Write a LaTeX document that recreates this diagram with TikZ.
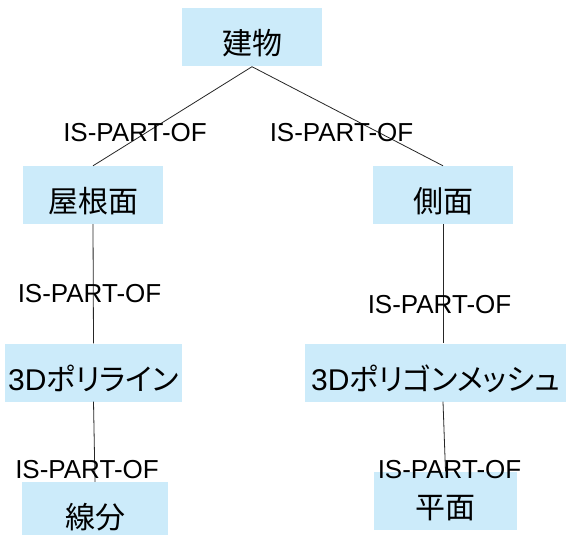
\documentclass[tikz,border=0pt]{standalone}
\usepackage{fontspec}
\setmainfont{Liberation Sans}
\newfontfamily\jpfont[RawFeature=+palt]{Noto Sans CJK JP}
\newfontfamily\latinfont{Liberation Sans}
\definecolor{boxblue}{RGB}{204,235,250}
\begin{document}
\begin{tikzpicture}[x=1pt,y=-1pt,
  box/.style={fill=boxblue, draw=none, minimum height=58pt, inner sep=0pt,
    font=\fontsize{30}{30}\jpfont, text height=35pt, text depth=0pt},
  lbl/.style={font=\fontsize{26}{26}\selectfont, inner sep=0pt,
    text height=18.6pt, text depth=0pt},
  conn/.style={draw=black!85, line width=0.8pt}]
\useasboundingbox[fill=white] (0,0) rectangle (578,535);
\node[box, minimum width=140pt] (tatemono) at (252,37.5) {建物};
\node[box, minimum width=140pt] (yane) at (93,195) {屋根面};
\node[box, minimum width=140pt] (sokumen) at (443,195) {側面};
\node[box, minimum width=177pt] (polyline) at (93.5,372.5) {{\latinfont 3D}ポリライン};
\node[box, minimum width=261pt] (mesh) at (435.5,372.5) {{\latinfont 3D}ポリゴンメッシュ};
\node[box, minimum width=146pt] (senbun) at (95,511) {線分};
\node[box, minimum width=143pt] (heimen) at (445.5,500.5) {平面};
\draw[conn] (tatemono.south) -- (yane.north);
\draw[conn] (tatemono.south) -- (sokumen.north);
\draw[conn] (yane.south) -- (polyline.north);
\draw[conn] (sokumen.south) -- (sokumen.south |- mesh.north);
\draw[conn] (polyline.south) -- (senbun.north);
\draw[conn] (sokumen.south |- mesh.south) -- (heimen.north);
\node[lbl] (l1) at (135,132) {IS-PART-OF};
\node[lbl] (l2) at (341.5,132) {IS-PART-OF};
\node[lbl] (l3) at (89.5,293) {IS-PART-OF};
\node[lbl] (l4) at (439.5,304.5) {IS-PART-OF};
\node[lbl] (l5) at (87,469) {IS-PART-OF};
\node[lbl] (l6) at (449.5,469) {IS-PART-OF};
\end{tikzpicture}
\end{document}
